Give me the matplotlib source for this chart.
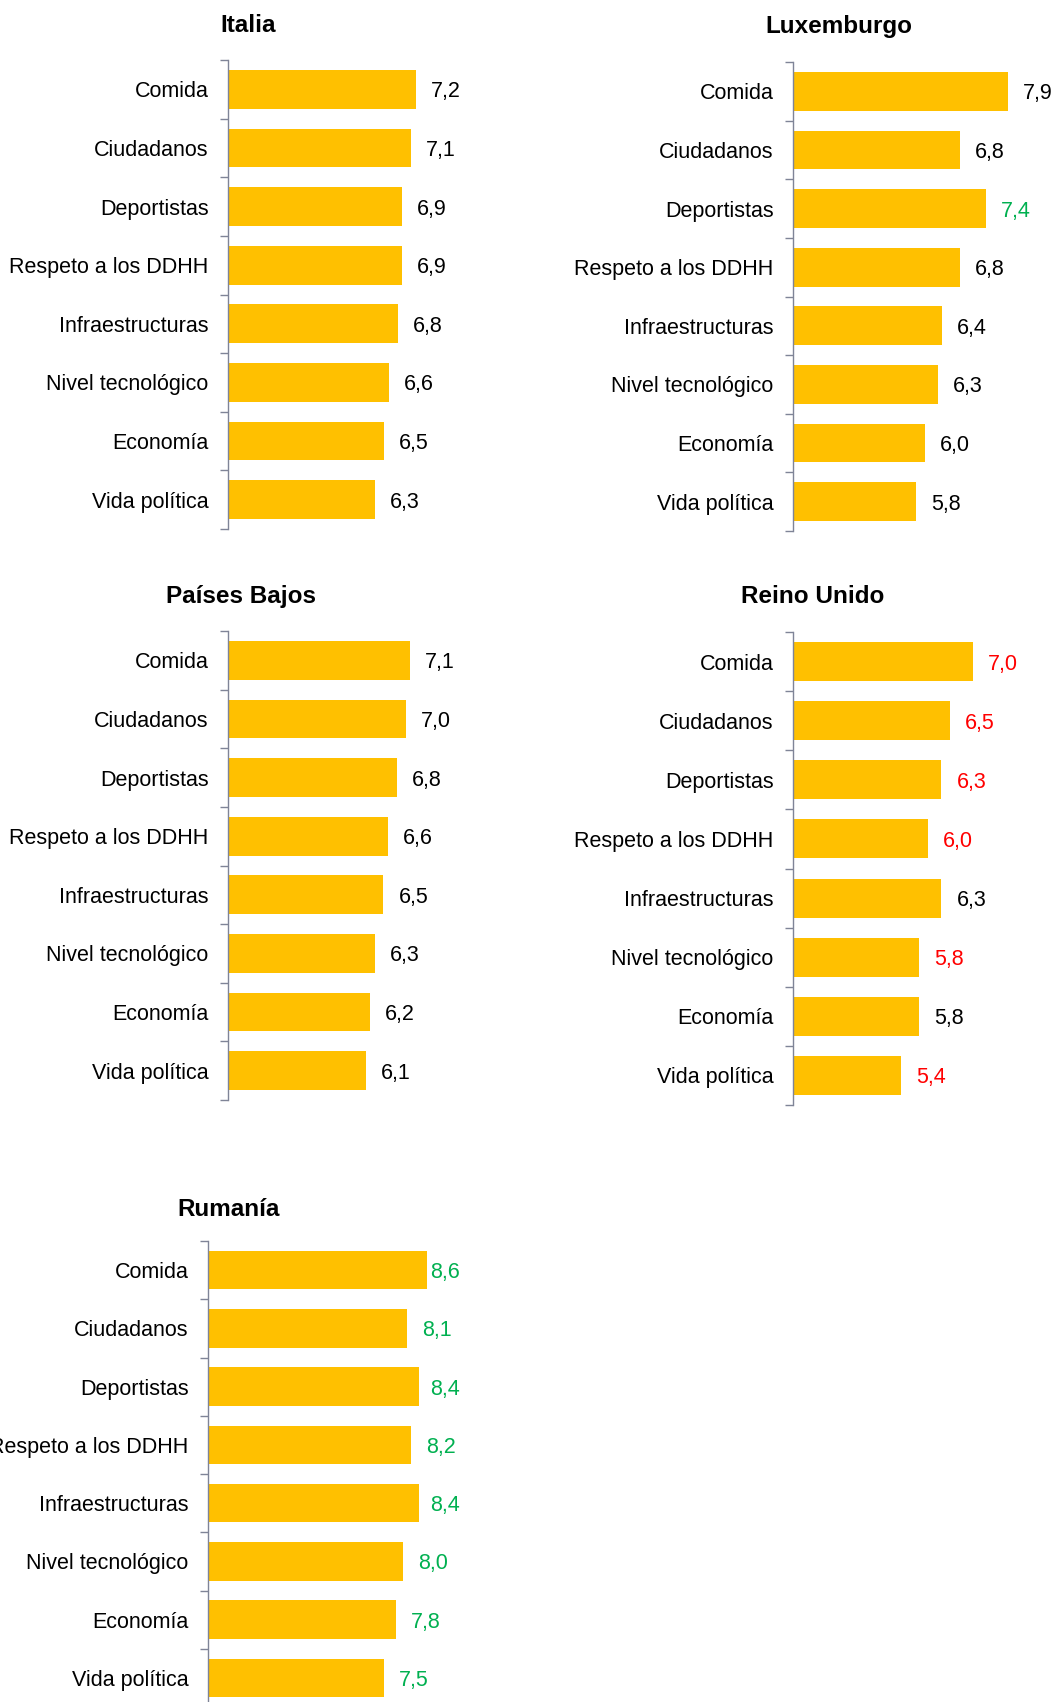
import numpy as np
import matplotlib
matplotlib.use('Agg')
import matplotlib.pyplot as plt

plt.rcParams['font.family'] = ['Liberation Sans', 'DejaVu Sans']

categorias = ['Comida', 'Ciudadanos', 'Deportistas', 'Respeto a los DDHH',
              'Infraestructuras', 'Nivel tecnológico', 'Economía', 'Vida política']

italia = [7.2, 7.1, 6.9, 6.9, 6.8, 6.6, 6.5, 6.3]
luxemburgo = [7.9, 6.8, 7.4, 6.8, 6.4, 6.3, 6.0, 5.8]
paises_bajos = [7.1, 7.0, 6.8, 6.6, 6.5, 6.3, 6.2, 6.1]
reino_unido = [7.0, 6.5, 6.3, 6.0, 6.3, 5.8, 5.8, 5.4]
rumania = [8.6, 8.1, 8.4, 8.2, 8.4, 8.0, 7.8, 7.5]

# colour of each value label: k = normal, g = better, r = worse
col_italia = ['k'] * 8
col_luxemburgo = ['k', 'k', 'g', 'k', 'k', 'k', 'k', 'k']
col_paises_bajos = ['k'] * 8
col_reino_unido = ['r', 'r', 'r', 'r', 'k', 'r', 'k', 'r']
col_rumania = ['g'] * 8

COLORES = {'k': '#000000', 'g': '#00B050', 'r': '#FF0000'}
BAR = '#FFC000'
SPINE = '#7F8497'

W, H = 1054, 1702
fig = plt.figure(figsize=(W / 100, H / 100), dpi=100)

# (title, values, colours, axis x, top, bottom, width (px), xmax, title x, title y)
paneles = [
    ('Italia', italia, col_italia, 228, 60, 529, 250, 8.6, 248, 26),
    ('Luxemburgo', luxemburgo, col_luxemburgo, 793, 62, 531, 259, 8.9, 839, 26),
    ('Países Bajos', paises_bajos, col_paises_bajos, 228, 631, 1100, 250, 8.63, 241, 597),
    ('Reino Unido', reino_unido, col_reino_unido, 793, 632, 1105, 250, 8.56, 813, 597),
    ('Rumanía', rumania, col_rumania, 208, 1241, 1707, 251, 9.42, 229, 1209),
]

for titulo, vals, cols, x0, top, bot, ancho, xmax, tx, ty in paneles:
    ax = fig.add_axes([x0 / W, (H - bot) / H, ancho / W, (bot - top) / H])
    y = np.arange(len(categorias))
    ax.barh(y, vals, height=0.66, color=BAR)
    ax.set_xlim(3, xmax)
    ax.set_ylim(len(categorias) - 0.5, -0.5)
    escala = ancho / (xmax - 3)
    for yi, v, c in zip(y, vals, cols):
        xl = min(v + 15 / escala, xmax - 29 / escala)
        ax.text(xl, yi, f'{v:.1f}'.replace('.', ','), va='center_baseline', ha='left',
                fontsize=15.5, color=COLORES[c], clip_on=False)
    ax.set_yticks(y)
    ax.set_yticklabels(categorias, fontsize=15.5)
    ax.tick_params(axis='y', which='major', length=0, pad=14)
    ax.set_yticks(np.arange(-0.5, len(categorias), 1), minor=True)
    ax.tick_params(axis='y', which='minor', length=6, width=1.0, color=SPINE, direction='out')
    ax.set_xticks([])
    for s in ['top', 'right', 'bottom']:
        ax.spines[s].set_visible(False)
    ax.spines['left'].set_color(SPINE)
    ax.spines['left'].set_linewidth(1.0)
    fig.text(tx / W, 1 - ty / H, titulo, ha='center', va='center',
             fontsize=17.5, fontweight='bold')

fig.savefig('out.png', dpi=100)
